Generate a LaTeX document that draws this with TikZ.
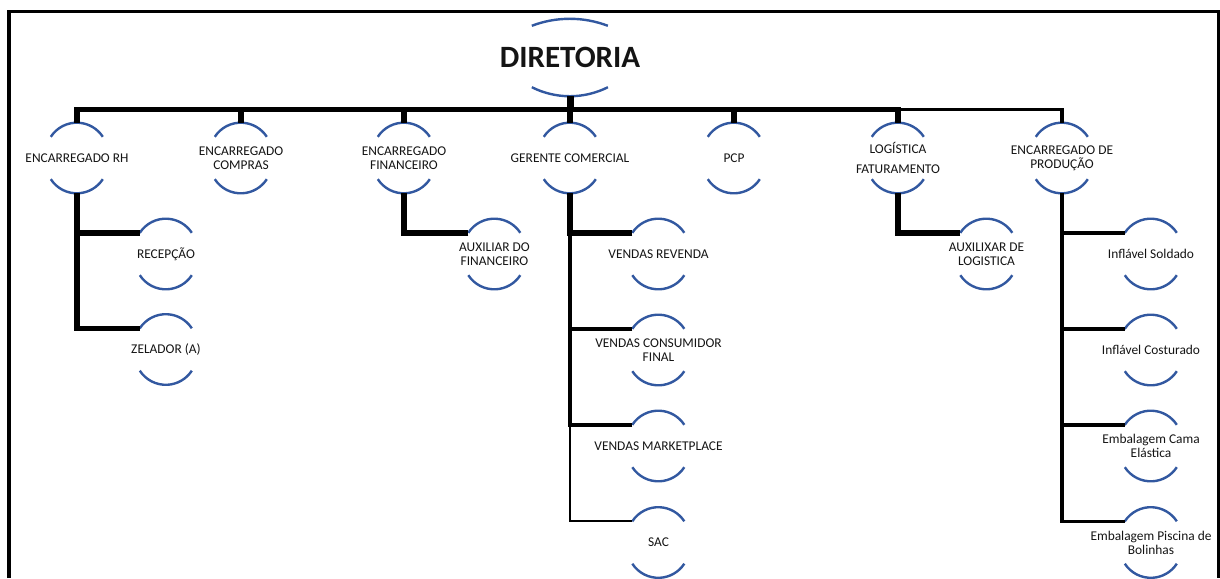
\documentclass[tikz,border=0pt]{standalone}
\usepackage{fontspec}
\setmainfont{Carlito}
\usepackage{xcolor}
\usetikzlibrary{math}
\definecolor{myblue}{RGB}{50,88,160}
\definecolor{mytext}{RGB}{20,20,20}

\begin{document}
\begin{tikzpicture}[x=1pt, y=1pt,
  post/.style={minimum width=52pt, minimum height=70pt, inner sep=0pt, label={[posttext]center:{#1}}},
  posttext/.style={font=\fontsize{13.4}{14}\selectfont, align=center, text=mytext, inner sep=0pt},
  arcline/.style={myblue, line width=2.4pt},
  bar/.style={line width=5.5pt},
  midbar/.style={line width=3.5pt},
  thinbar/.style={line width=2.2pt},
  frame/.style={line width=3.5pt}
]
\tikzmath{
\dy=14;
\r=31;
}
\useasboundingbox (0,0) rectangle (1220,-578);
\draw[frame] (9,-578) |- (1218.5,-11.5) -- (1218.5,-578);

\node[post={\fontsize{31}{31}\selectfont\bfseries DIRETORIA}, minimum width=76pt, minimum height=77pt] (dir) at (570,-57.5) {};

\node[post={ENCARREGADO RH}] (rh) at (77,-158) {};
\node[post={ENCARREGADO\\COMPRAS}] (comp) at (241,-158) {};
\node[post={ENCARREGADO\\FINANCEIRO}] (fin) at (404,-158) {};
\node[post={GERENTE COMERCIAL}] (ger) at (570,-158) {};
\node[post={PCP}] (pcp) at (734,-158) {};
\node[post={LOGÍSTICA\\[6pt]FATURAMENTO}] (log) at (898,-158) {};
\node[post={ENCARREGADO DE\\PRODUÇÃO}] (prod) at (1062,-158) {};

\node[post={RECEPÇÃO}] (rec) at (166,-254) {};
\node[post={ZELADOR (A)}] (zel) at (166,-349.5) {};
\node[post={AUXILIAR DO\\FINANCEIRO}] (auxfin) at (494.5,-254) {};
\node[post={VENDAS REVENDA}] (rev) at (658.5,-254) {};
\node[post={VENDAS CONSUMIDOR\\FINAL}] (con) at (658.5,-350) {};
\node[post={VENDAS MARKETPLACE}] (mkt) at (658.5,-446) {};
\node[post={SAC}] (sac) at (658.5,-542.5) {};
\node[post={AUXILIXAR DE\\LOGISTICA}] (auxlog) at (986.5,-254) {};
\node[post={Inflável Soldado}] (sol) at (1151,-254) {};
\node[post={Inflável Costurado}] (cos) at (1151,-350) {};
\node[post={Embalagem Cama\\Elástica}] (cama) at (1151,-446) {};
\node[post={Embalagem Piscina de\\Bolinhas}] (pisc) at (1151,-542.5) {};

\draw[arcline] ([yshift=-7pt]dir.north west) arc[start angle=110.9, end angle=69.1, radius=106.6pt];
\draw[arcline] ([yshift=9pt]dir.south west) arc[start angle=243.3, end angle=296.7, radius=84.7pt];
\foreach \n in {rh,comp,fin,ger,pcp,log,prod,rec,zel,auxfin,rev,con,mkt,sac,auxlog,sol,cos,cama,pisc}{
  \draw[arcline] ([yshift=-\dy]\n.north west) arc[start angle=147, end angle=33, radius=\r];
  \draw[arcline] ([yshift=\dy]\n.south west) arc[start angle=213, end angle=327, radius=\r];
}

\coordinate (bus) at (570,-109.5);
\draw[line width=7pt] (dir.south) -- (bus);
\draw[bar] (rh.north) |- (bus) -| (log.north);
\draw[midbar] (log.north |- bus) -| (prod.north);
\foreach \n in {comp,fin,ger,pcp}
  \draw[bar] (\n.north) -- (\n.north |- bus);

\draw[bar] ([yshift=-\dy]rec.north west) -| (rh.south);
\draw[bar] ([yshift=-\dy]zel.north west) -| (rh.south);
\draw[bar] ([yshift=-\dy]auxfin.north west) -| (fin.south);
\draw[thinbar] ([yshift=-\dy]sac.north west) -| (ger.south);
\draw[midbar] ([yshift=-\dy]mkt.north west) -| (ger.south);
\draw[midbar] ([yshift=-\dy]con.north west) -| (ger.south);
\draw[bar] ([yshift=-\dy]rev.north west) -| (ger.south);
\draw[bar] ([yshift=-\dy]auxlog.north west) -| (log.south);
\draw[line width=4.5pt] (prod.south) -- (prod.south |- pisc.north west) -- ++(0,-\dy);
\foreach \n in {sol,cos,cama,pisc}
  \draw[midbar] ([yshift=-\dy]\n.north west) -| (prod.south);
\end{tikzpicture}
\end{document}
